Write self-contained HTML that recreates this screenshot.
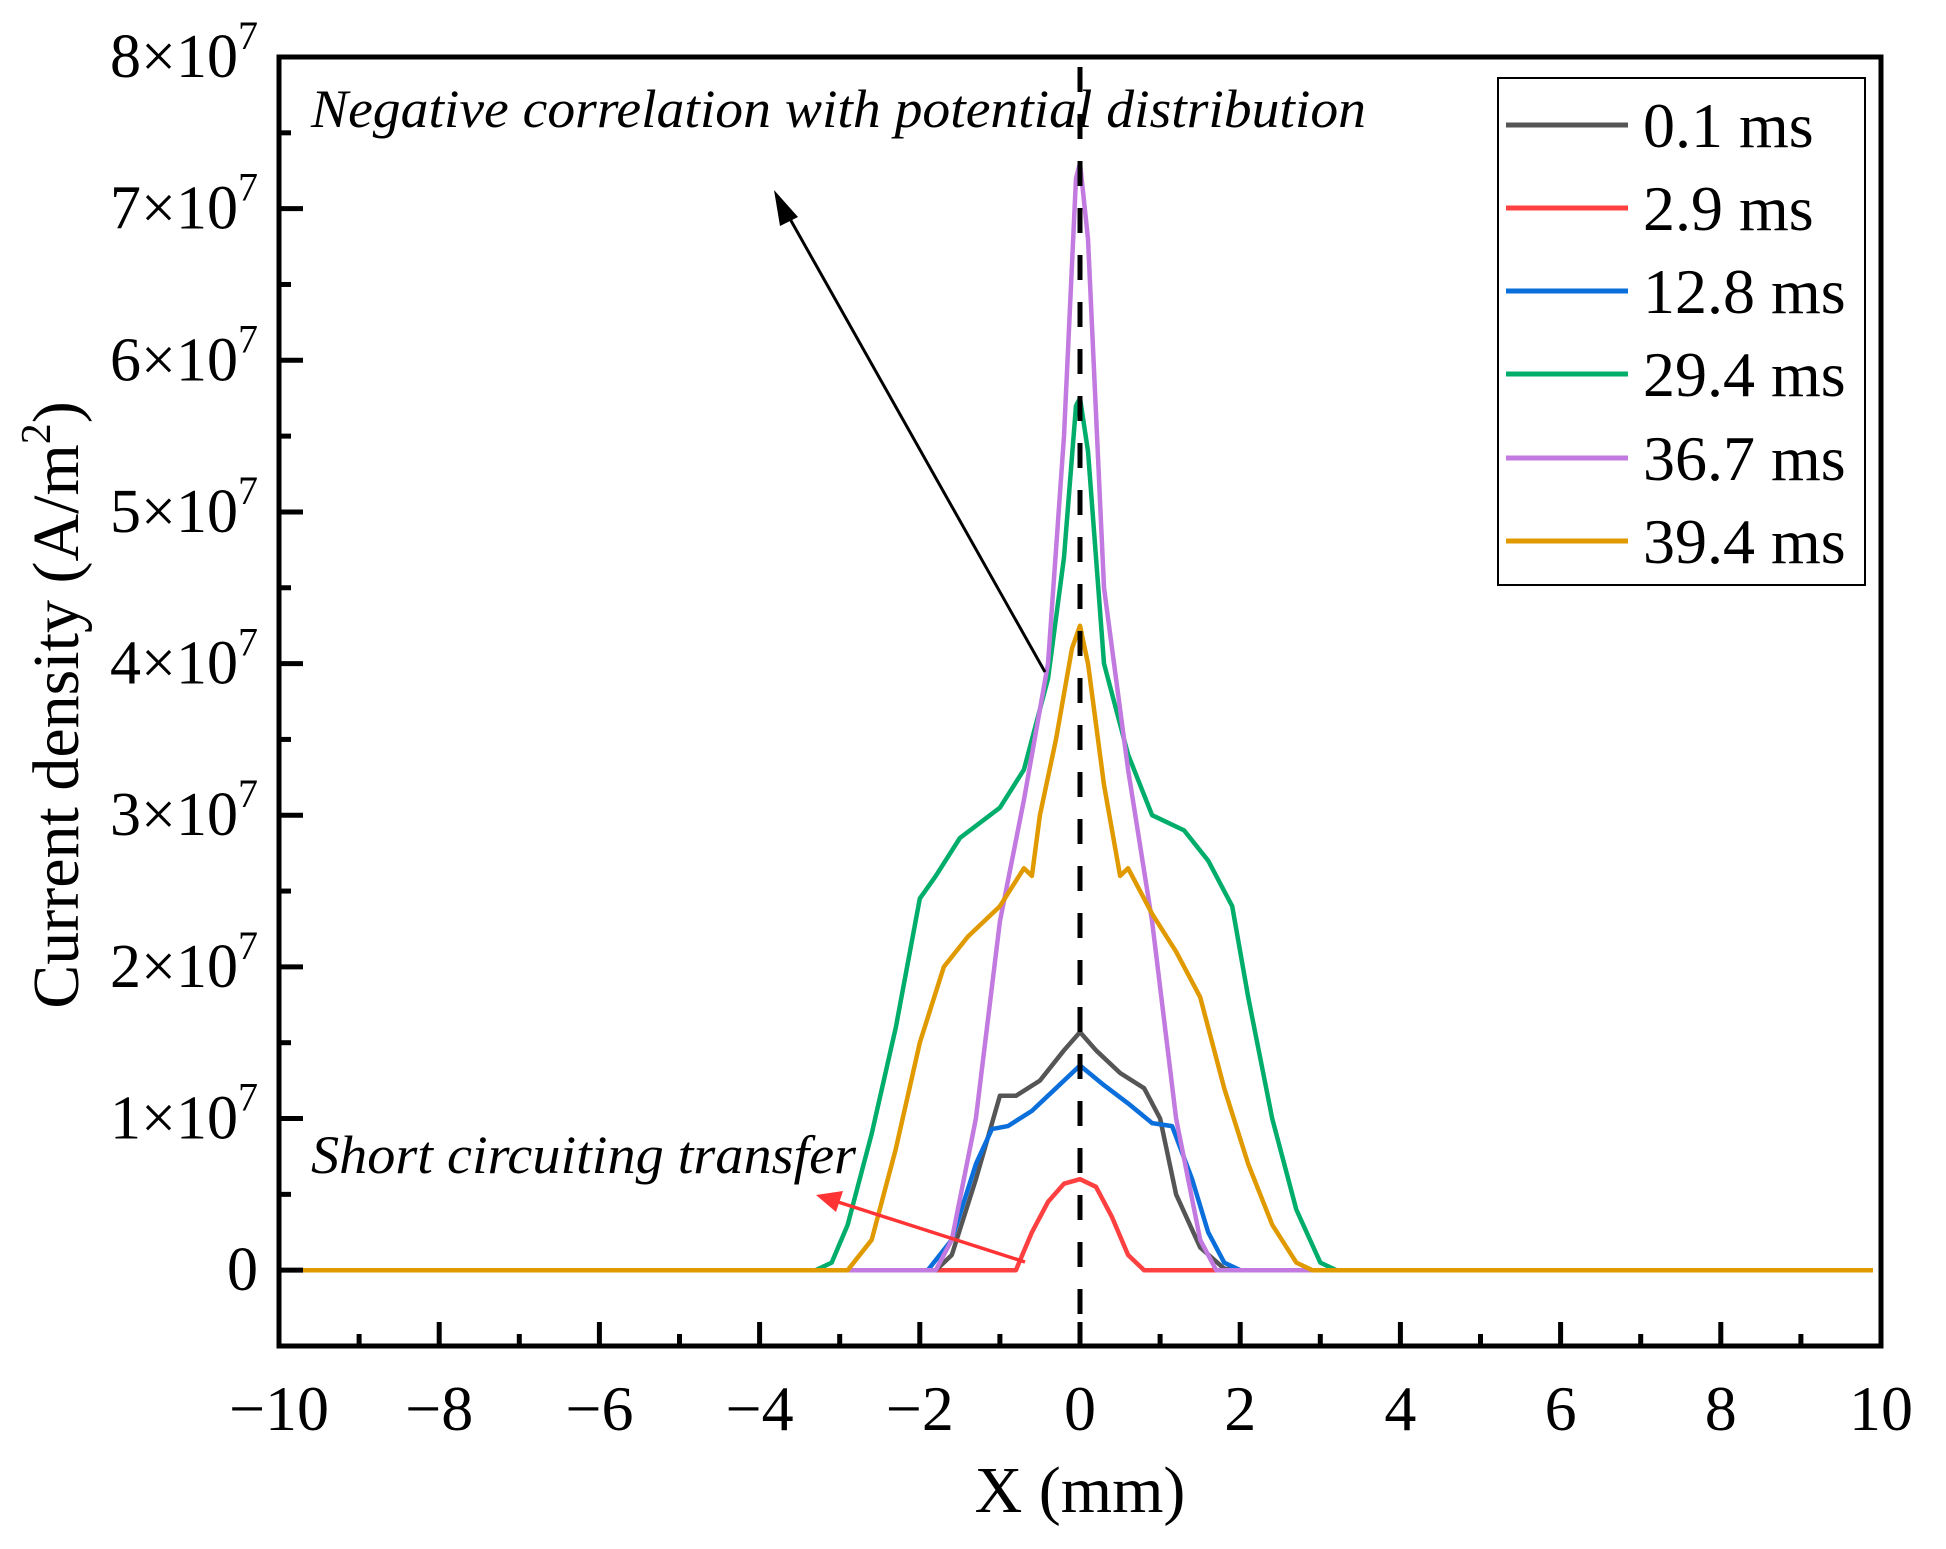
<!DOCTYPE html>
<html><head><meta charset="utf-8"><style>
html,body{margin:0;padding:0;background:#fff}
svg{display:block;font-family:"Liberation Serif",serif}
</style></head><body>
<svg id="chart" width="1946" height="1549" viewBox="0 0 1946 1549">
<g id="plot"></g>
<text x="1080" y="1512" font-size="66" text-anchor="middle">X (mm)</text>
<text transform="translate(78,705) rotate(-90)" font-size="66" text-anchor="middle">Current density (A/m<tspan dy="-28" font-size="42">2</tspan><tspan dy="28">)</tspan></text>
<text x="311" y="127" font-size="54" font-style="italic" textLength="1055" lengthAdjust="spacingAndGlyphs">Negative correlation with potential distribution</text>
<text x="311" y="1173" font-size="54" font-style="italic" textLength="545" lengthAdjust="spacingAndGlyphs">Short circuiting transfer</text>
<g>
<line x1="1045" y1="672" x2="785" y2="210" stroke="#000" stroke-width="3"/>
<polygon points="774,190 798,217 780,226" fill="#000"/>
</g>
<g>
<line x1="1025" y1="1262" x2="835" y2="1201" stroke="#ff3333" stroke-width="3.5"/>
<polygon points="816,1195 843,1191 836,1212" fill="#ff3333"/>
</g>
<g>
<rect x="1498" y="78" width="367" height="507" fill="#fff" stroke="#000" stroke-width="2"/>
<g><line x1="1506" x2="1628" y1="125" y2="125" stroke="#555555" stroke-width="5"/><text x="1643" y="147" font-size="64">0.1 ms</text></g>
<g><line x1="1506" x2="1628" y1="208" y2="208" stroke="#ff4040" stroke-width="5"/><text x="1643" y="230" font-size="64">2.9 ms</text></g>
<g><line x1="1506" x2="1628" y1="291" y2="291" stroke="#0a6fdb" stroke-width="5"/><text x="1643" y="313" font-size="64">12.8 ms</text></g>
<g><line x1="1506" x2="1628" y1="374" y2="374" stroke="#00ad6b" stroke-width="5"/><text x="1643" y="396" font-size="64">29.4 ms</text></g>
<g><line x1="1506" x2="1628" y1="458" y2="458" stroke="#c27ae0" stroke-width="5"/><text x="1643" y="480" font-size="64">36.7 ms</text></g>
<g><line x1="1506" x2="1628" y1="541" y2="541" stroke="#e09a00" stroke-width="5"/><text x="1643" y="563" font-size="64">39.4 ms</text></g>
</g>
</svg>
<script>
const xTicks=[-10,-8,-6,-4,-2,0,2,4,6,8,10];
const yTicks=[0,1,2,3,4,5,6,7,8];
const seriesNames=["0.1 ms","2.9 ms","12.8 ms","29.4 ms","36.7 ms","39.4 ms"];
const seriesColors=["#555555","#ff4040","#0a6fdb","#00ad6b","#c27ae0","#e09a00"];
const s01x=[-9.9,-1.8,-1.6,-1.3,-1.0,-0.8,-0.5,-0.2,0,0.2,0.5,0.8,1.0,1.2,1.5,1.8,2.0,9.9];
const s01y=[0,0,0.1,0.6,1.15,1.15,1.25,1.45,1.57,1.45,1.3,1.2,1.0,0.5,0.15,0.01,0,0];
const s29x=[-9.9,-0.8,-0.6,-0.4,-0.2,0,0.2,0.4,0.6,0.8,9.9];
const s29y=[0,0,0.25,0.45,0.57,0.6,0.55,0.35,0.1,0,0];
const s128x=[-9.9,-1.9,-1.6,-1.3,-1.1,-0.9,-0.6,-0.3,0,0.3,0.6,0.9,1.15,1.4,1.6,1.8,2.0,9.9];
const s128y=[0,0,0.2,0.7,0.93,0.95,1.05,1.2,1.35,1.22,1.1,0.97,0.95,0.6,0.25,0.05,0,0];
const s294x=[-9.9,-3.3,-3.1,-2.9,-2.6,-2.3,-2.0,-1.8,-1.5,-1.0,-0.7,-0.4,-0.2,-0.05,0,0.1,0.3,0.6,0.9,1.3,1.6,1.9,2.1,2.4,2.7,3.0,3.2,9.9];
const s294y=[0,0,0.05,0.3,0.9,1.6,2.45,2.6,2.85,3.05,3.3,3.9,4.7,5.7,5.75,5.4,4.0,3.4,3.0,2.9,2.7,2.4,1.8,1.0,0.4,0.05,0,0];
const s367x=[-9.9,-1.8,-1.6,-1.3,-1.0,-0.7,-0.4,-0.2,-0.05,0,0.1,0.3,0.6,0.9,1.2,1.5,1.7,9.9];
const s367y=[0,0,0.2,1.0,2.3,3.1,4.0,5.5,7.2,7.3,6.8,4.5,3.3,2.3,1.0,0.2,0,0];
const s394x=[-9.9,-2.9,-2.6,-2.3,-2.0,-1.7,-1.4,-1.0,-0.7,-0.6,-0.5,-0.3,-0.1,0,0.1,0.3,0.5,0.6,0.9,1.2,1.5,1.8,2.1,2.4,2.7,2.9,9.9];
const s394y=[0,0,0.2,0.8,1.5,2.0,2.2,2.4,2.65,2.6,3.0,3.5,4.1,4.25,4.0,3.2,2.6,2.65,2.35,2.1,1.8,1.2,0.7,0.3,0.05,0,0];
const seriesX=[s01x,s29x,s128x,s294x,s367x,s394x];
const seriesY=[s01y,s29y,s128y,s294y,s367y,s394y];

const L=279,R=1881,T=57,B=1346;
const xMin=-10,xMax=10,yMin=-0.5,yMax=8;
const sx=v=>L+(v-xMin)/(xMax-xMin)*(R-L);
const sy=v=>B-(v-yMin)/(yMax-yMin)*(B-T);
const NS="http://www.w3.org/2000/svg";
const g=document.getElementById('plot');
function mk(tag,attrs,parent){const e=document.createElementNS(NS,tag);for(const k in attrs)e.setAttribute(k,attrs[k]);(parent||g).appendChild(e);return e;}

const order=[1,0,2,3,4,5];
for(const i of order){
  const pts=seriesX[i].map((x,j)=>sx(x).toFixed(1)+","+sy(seriesY[i][j]).toFixed(1)).join(" ");
  const p=mk('polyline',{points:pts,fill:"none",stroke:seriesColors[i],"stroke-width":4.5,"stroke-linejoin":"round"});
  
  
}
const dl=mk('line',{x1:sx(0),x2:sx(0),y1:T+10,y2:B,stroke:"#000","stroke-width":5,"stroke-dasharray":"25 22"});



const fr=mk('rect',{x:L,y:T,width:R-L,height:B-T,fill:"none",stroke:"#000","stroke-width":5});



xTicks.forEach((v,i)=>{
  const t=mk('line',{x1:sx(v),x2:sx(v),y1:B,y2:B-24,stroke:"#000","stroke-width":5});
  
  
  if(i<xTicks.length-1){const m=mk('line',{x1:sx(v+1),x2:sx(v+1),y1:B,y2:B-12,stroke:"#000","stroke-width":5});
  
  }
  const lb=mk('text',{x:sx(v),y:1430,"font-size":64,"text-anchor":"middle"});
  lb.textContent=(v<0?"\u2212"+(-v):String(v));
  
  
});
yTicks.forEach((v)=>{
  const t=mk('line',{x1:L,x2:L+24,y1:sy(v),y2:sy(v),stroke:"#000","stroke-width":5});
  
  
  const m=mk('line',{x1:L,x2:L+12,y1:sy(v-0.5),y2:sy(v-0.5),stroke:"#000","stroke-width":5});
  
  
  const lb=mk('text',{x:258,y:sy(v)+20,"font-size":62,"text-anchor":"end"});
  if(v===0){lb.textContent="0";}
  else{lb.textContent=v+"\u00d710";const sp=mk('tspan',{dy:-28,"font-size":40},lb);sp.textContent="7";}
  
  
});
</script>
</body></html>
